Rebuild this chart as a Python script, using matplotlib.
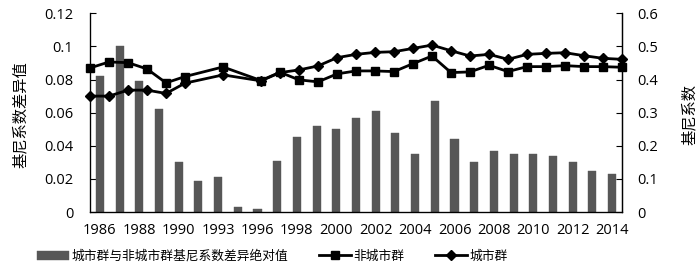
import matplotlib
matplotlib.use("Agg")
import matplotlib.pyplot as plt
from matplotlib.ticker import FuncFormatter

plt.rcParams["font.family"] = ["Open Sans", "Noto Sans CJK SC", "DejaVu Sans"]
plt.rcParams["axes.unicode_minus"] = False

# data years (1992 and 1994 are absent in the source)
years = [1986, 1987, 1988, 1989, 1990, 1991, 1993, 1995, 1996, 1997, 1998, 1999,
         2000, 2001, 2002, 2003, 2004, 2005, 2006, 2007, 2008, 2009, 2010, 2011,
         2012, 2013, 2014]

# |Gini(city cluster) - Gini(non cluster)|, left axis
gini_diff = [0.082, 0.100, 0.079, 0.062, 0.030, 0.019, 0.021, 0.003, 0.002, 0.031,
             0.045, 0.052, 0.050, 0.057, 0.061, 0.048, 0.035, 0.067, 0.044, 0.030,
             0.037, 0.035, 0.035, 0.034, 0.030, 0.025, 0.023]

# Gini coefficient, right axis
gini_non_cluster = [0.435, 0.453, 0.451, 0.432, 0.390, 0.409, 0.438, 0.397, 0.422, 0.399,
                    0.393, 0.417, 0.426, 0.426, 0.424, 0.448, 0.471, 0.421, 0.423, 0.443,
                    0.424, 0.439, 0.439, 0.442, 0.439, 0.439, 0.437]
gini_cluster = [0.350, 0.350, 0.368, 0.368, 0.358, 0.389, 0.414, 0.396, 0.421, 0.429,
                0.441, 0.466, 0.476, 0.482, 0.484, 0.494, 0.504, 0.487, 0.471, 0.476,
                0.461, 0.476, 0.479, 0.481, 0.472, 0.464, 0.461]

left_ticks = [0, 0.02, 0.04, 0.06, 0.08, 0.1, 0.12]
right_ticks = [0, 0.1, 0.2, 0.3, 0.4, 0.5, 0.6]

label_bar = "城市群与非城市群基尼系数差异绝对值"
label_non = "非城市群"
label_city = "城市群"

TICK_FS = 10.5
CJK_FS = 11
BAR_COLOR = "#575757"


def _fmt(v, _pos):
    return f"{v:g}"


fig = plt.figure(figsize=(7.0, 2.68), dpi=100)
ax = fig.add_axes([90 / 700, 1 - 212 / 268, 532 / 700, 198.7 / 268])

# ---- bars (categorical x axis) ----
pos = list(range(len(years)))
bars = ax.bar(pos, gini_diff, width=0.41, color=BAR_COLOR, edgecolor=BAR_COLOR,
              linewidth=0.3, label=label_bar, zorder=2)
ax.set_xlim(-0.5, len(years) - 0.5)
ax.set_ylim(0, 0.12)
ax.set_yticks(left_ticks)
ax.yaxis.set_major_formatter(FuncFormatter(_fmt))
ax.set_xticks(pos[::2])
ax.set_xticklabels([str(y) for y in years[::2]])
ax.tick_params(axis="x", length=0, pad=8, labelsize=TICK_FS)
ax.tick_params(axis="y", direction="in", length=4.5, width=0.8, pad=12, labelsize=TICK_FS)
ax.spines["top"].set_visible(False)
for s in ("left", "bottom", "right"):
    ax.spines[s].set_linewidth(0.9)
ax.set_ylabel("基尼系数差异值", fontsize=CJK_FS, family=["Noto Sans CJK SC"])
ax.yaxis.set_label_coords(-0.115, 0.49)

# ---- right axis ----
ax_r = ax.twinx()
ax_r.set_ylim(0, 0.6)
ax_r.set_yticks(right_ticks)
ax_r.yaxis.set_major_formatter(FuncFormatter(_fmt))
ax_r.tick_params(axis="y", direction="in", length=4.5, width=0.8, pad=11, labelsize=TICK_FS)
ax_r.spines["top"].set_visible(False)
ax_r.spines["right"].set_linewidth(0.9)
ax_r.set_ylabel("基尼系数", fontsize=CJK_FS, family=["Noto Sans CJK SC"])
ax_r.yaxis.set_label_coords(1.11, 0.49)

# ---- lines on a continuous year axis spanning the plot edges ----
ax_line = ax_r.twiny()
ax_line.set_xlim(1986, 2014)
ax_line.xaxis.set_visible(False)
for s in ax_line.spines.values():
    s.set_visible(False)
ln_non, = ax_line.plot(years, gini_non_cluster, color="black", lw=2.0, marker="s",
                       markersize=6, label=label_non, zorder=3, clip_on=False)
ln_city, = ax_line.plot(years, gini_cluster, color="black", lw=2.0, marker="D",
                        markersize=5, label=label_city, zorder=3, clip_on=False)

fig.legend([bars, ln_non, ln_city], [label_bar, label_non, label_city],
           loc="center left", bbox_to_anchor=(37 / 700, 1 - 256 / 268), ncol=3,
           frameon=False, prop={"family": ["Noto Sans CJK SC"], "size": 9.2},
           handlelength=2.5, handletextpad=0.2, columnspacing=2.4,
           borderaxespad=0, borderpad=0)

fig.savefig("out.png", dpi=100)
plt.close(fig)
